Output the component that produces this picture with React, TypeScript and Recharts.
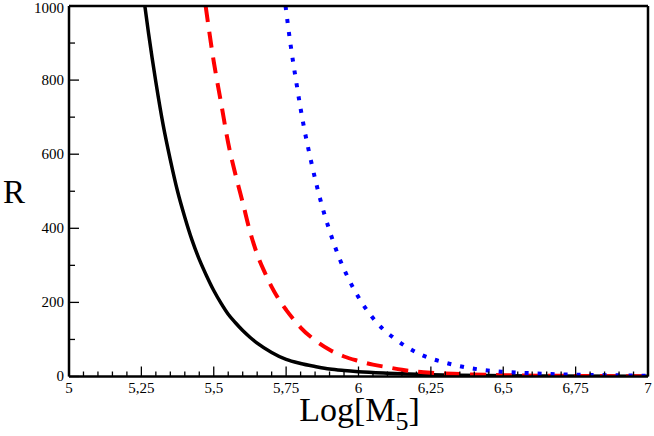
import { LineChart, Line, XAxis, YAxis } from 'recharts';

// R against Log[M5], three curves
const solidCurve = [
    { m: 5.262, r: 1000 }, { m: 5.275, r: 925 }, { m: 5.3, r: 795 }, { m: 5.325, r: 680 },
    { m: 5.35, r: 585 }, { m: 5.375, r: 500 }, { m: 5.4, r: 430 }, { m: 5.425, r: 368 },
    { m: 5.45, r: 316 }, { m: 5.475, r: 272 }, { m: 5.5, r: 232 }, { m: 5.525, r: 198 },
    { m: 5.55, r: 168 }, { m: 5.575, r: 145 }, { m: 5.6, r: 124 }, { m: 5.625, r: 106 },
    { m: 5.65, r: 90 }, { m: 5.7, r: 65 }, { m: 5.75, r: 46 }, { m: 5.8, r: 35 },
    { m: 5.85, r: 27 }, { m: 5.9, r: 20 }, { m: 5.95, r: 16 }, { m: 6.0, r: 13 },
    { m: 6.1, r: 9 }, { m: 6.2, r: 6 }, { m: 6.35, r: 3.5 }, { m: 6.6, r: 1.5 }, { m: 7.0, r: 0.5 },
];

const dashedCurve = [
    { m: 5.472, r: 1000 }, { m: 5.5, r: 850 }, { m: 5.525, r: 740 }, { m: 5.55, r: 630 },
    { m: 5.575, r: 545 }, { m: 5.6, r: 470 }, { m: 5.625, r: 392 }, { m: 5.65, r: 330 },
    { m: 5.675, r: 283 }, { m: 5.7, r: 242 }, { m: 5.725, r: 208 }, { m: 5.75, r: 180 },
    { m: 5.775, r: 155 }, { m: 5.8, r: 132 }, { m: 5.85, r: 98 }, { m: 5.9, r: 72 },
    { m: 5.95, r: 54 }, { m: 6.0, r: 42 }, { m: 6.05, r: 32 }, { m: 6.1, r: 25 },
    { m: 6.15, r: 18 }, { m: 6.25, r: 10 }, { m: 6.35, r: 6.5 }, { m: 6.5, r: 3.5 },
    { m: 6.75, r: 1.5 }, { m: 7.0, r: 0.6 },
];

const dottedCurve = [
    { m: 5.748, r: 1000 }, { m: 5.766, r: 892 }, { m: 5.786, r: 790 }, { m: 5.8, r: 723 },
    { m: 5.816, r: 655 }, { m: 5.834, r: 589 }, { m: 5.854, r: 521 }, { m: 5.876, r: 455 },
    { m: 5.902, r: 389 }, { m: 5.932, r: 323 }, { m: 5.968, r: 260 }, { m: 6.012, r: 199 },
    { m: 6.067, r: 142 }, { m: 6.136, r: 96 }, { m: 6.216, r: 59 }, { m: 6.306, r: 36 },
    { m: 6.399, r: 21 }, { m: 6.494, r: 13 }, { m: 6.591, r: 9 }, { m: 6.735, r: 5 },
    { m: 6.83, r: 4 }, { m: 7.0, r: 2 },
];

const xMajorTicks = [5, 5.25, 5.5, 5.75, 6, 6.25, 6.5, 6.75, 7];
const yMajorTicks = [0, 200, 400, 600, 800, 1000];

// minor ticks: 4 between x majors, 1 between y majors
const xTicks = xMajorTicks.flatMap((v, i) =>
    i === 0 ? [v] : [1, 2, 3, 4, 5].map(k => +(xMajorTicks[i - 1] + (k * (v - xMajorTicks[i - 1])) / 5).toFixed(3))
);
const yTicks = yMajorTicks.flatMap((v, i) => (i === 0 ? [v] : [(v + yMajorTicks[i - 1]) / 2, v]));

const FONT = '"Liberation Serif", "DejaVu Serif", serif';
const isMajorX = (v: number) => xMajorTicks.some(t => Math.abs(t - v) < 1e-6);
const isMajorY = (v: number) => yMajorTicks.includes(v);
const fmt = (v: number) => String(v).replace('.', ',');

const BottomTick = ({ x, y, payload }: any) => {
    const major = isMajorX(payload.value);
    return (
        <g>
            <line x1={x} y1={y} x2={x} y2={y - (major ? 10 : 5)} stroke="#000" strokeWidth={1.3} />
            {major && (
                <text x={x} y={y + 16.5} textAnchor="middle" fontSize={15} style={{ fontFamily: FONT }} fill="#000">
                    {fmt(payload.value)}
                </text>
            )}
        </g>
    );
};

const TopTick = ({ x, y, payload }: any) => {
    const major = isMajorX(payload.value);
    return <line x1={x} y1={y} x2={x} y2={y + (major ? 9 : 5)} stroke="#000" strokeWidth={1.3} />;
};

const LeftTick = ({ x, y, payload }: any) => {
    const major = isMajorY(payload.value);
    // top label sits a little lower so it is not clipped
    const shift = payload.value === 1000 ? 2.5 : 0;
    return (
        <g>
            <line x1={x} y1={y} x2={x + (major ? 10 : 6)} y2={y} stroke="#000" strokeWidth={1.3} />
            {major && (
                <text
                    x={x - 5}
                    y={y + shift}
                    dy="0.33em"
                    textAnchor="end"
                    fontSize={15}
                    style={{ fontFamily: FONT }}
                    fill="#000"
                >
                    {payload.value}
                </text>
            )}
        </g>
    );
};

const RightTick = ({ x, y, payload }: any) => {
    const major = isMajorY(payload.value);
    return <line x1={x} y1={y} x2={x - (major ? 10 : 6)} y2={y} stroke="#000" strokeWidth={1.3} />;
};

const axisLine = { stroke: '#000', strokeWidth: 2.5 };

export default function App() {
    return (
        <div style={{ position: 'absolute', left: 0, top: 0, background: '#fff' }}>
            <LineChart width={654} height={436} margin={{ top: 5, right: 5, bottom: 58.5, left: 68 }}>
                <XAxis
                    xAxisId="b"
                    type="number"
                    dataKey="m"
                    domain={[5, 7]}
                    ticks={xTicks}
                    interval={0}
                    height={1}
                    tickSize={0}
                    tickMargin={0}
                    tickLine={false}
                    axisLine={axisLine}
                    tick={BottomTick}
                    allowDataOverflow
                    label={{
                        content: ({ viewBox }: any) => (
                            <text
                                x={viewBox.x + viewBox.width / 2 + 1}
                                y={viewBox.y + 44}
                                textAnchor="middle"
                                fontSize={34}
                                style={{ fontFamily: FONT }}
                                fill="#000"
                            >
                                Log[M<tspan fontSize={26} dy={9}>5</tspan>
                                <tspan dy={-9}>]</tspan>
                            </text>
                        ),
                    }}
                />
                <XAxis
                    xAxisId="t"
                    orientation="top"
                    type="number"
                    domain={[5, 7]}
                    ticks={xTicks}
                    interval={0}
                    height={1}
                    tickSize={0}
                    tickMargin={0}
                    tickLine={false}
                    axisLine={axisLine}
                    tick={TopTick}
                />
                <YAxis
                    yAxisId="l"
                    type="number"
                    domain={[0, 1000]}
                    ticks={yTicks}
                    interval={0}
                    width={1}
                    tickSize={0}
                    tickMargin={0}
                    tickLine={false}
                    axisLine={axisLine}
                    tick={LeftTick}
                    allowDataOverflow
                    label={{
                        content: () => (
                            <text x={3} y={203} fontSize={33} style={{ fontFamily: FONT }} fill="#000">
                                R
                            </text>
                        ),
                    }}
                />
                <YAxis
                    yAxisId="r"
                    orientation="right"
                    type="number"
                    domain={[0, 1000]}
                    ticks={yTicks}
                    interval={0}
                    width={1}
                    tickSize={0}
                    tickMargin={0}
                    tickLine={false}
                    axisLine={axisLine}
                    tick={RightTick}
                />
                <Line
                    xAxisId="b"
                    yAxisId="l"
                    data={solidCurve}
                    dataKey="r"
                    type="monotone"
                    stroke="#000"
                    strokeWidth={3.5}
                    dot={false}
                    isAnimationActive={false}
                />
                <Line
                    xAxisId="b"
                    yAxisId="l"
                    data={dashedCurve}
                    dataKey="r"
                    type="monotone"
                    stroke="#ff0000"
                    strokeWidth={4}
                    strokeDasharray="16 10"
                    dot={false}
                    isAnimationActive={false}
                />
                <Line
                    xAxisId="b"
                    yAxisId="l"
                    data={dottedCurve}
                    dataKey="r"
                    type="monotone"
                    stroke="#0000ff"
                    strokeWidth={4}
                    strokeDasharray="4 9"
                    dot={false}
                    isAnimationActive={false}
                />
            </LineChart>
        </div>
    );
}
